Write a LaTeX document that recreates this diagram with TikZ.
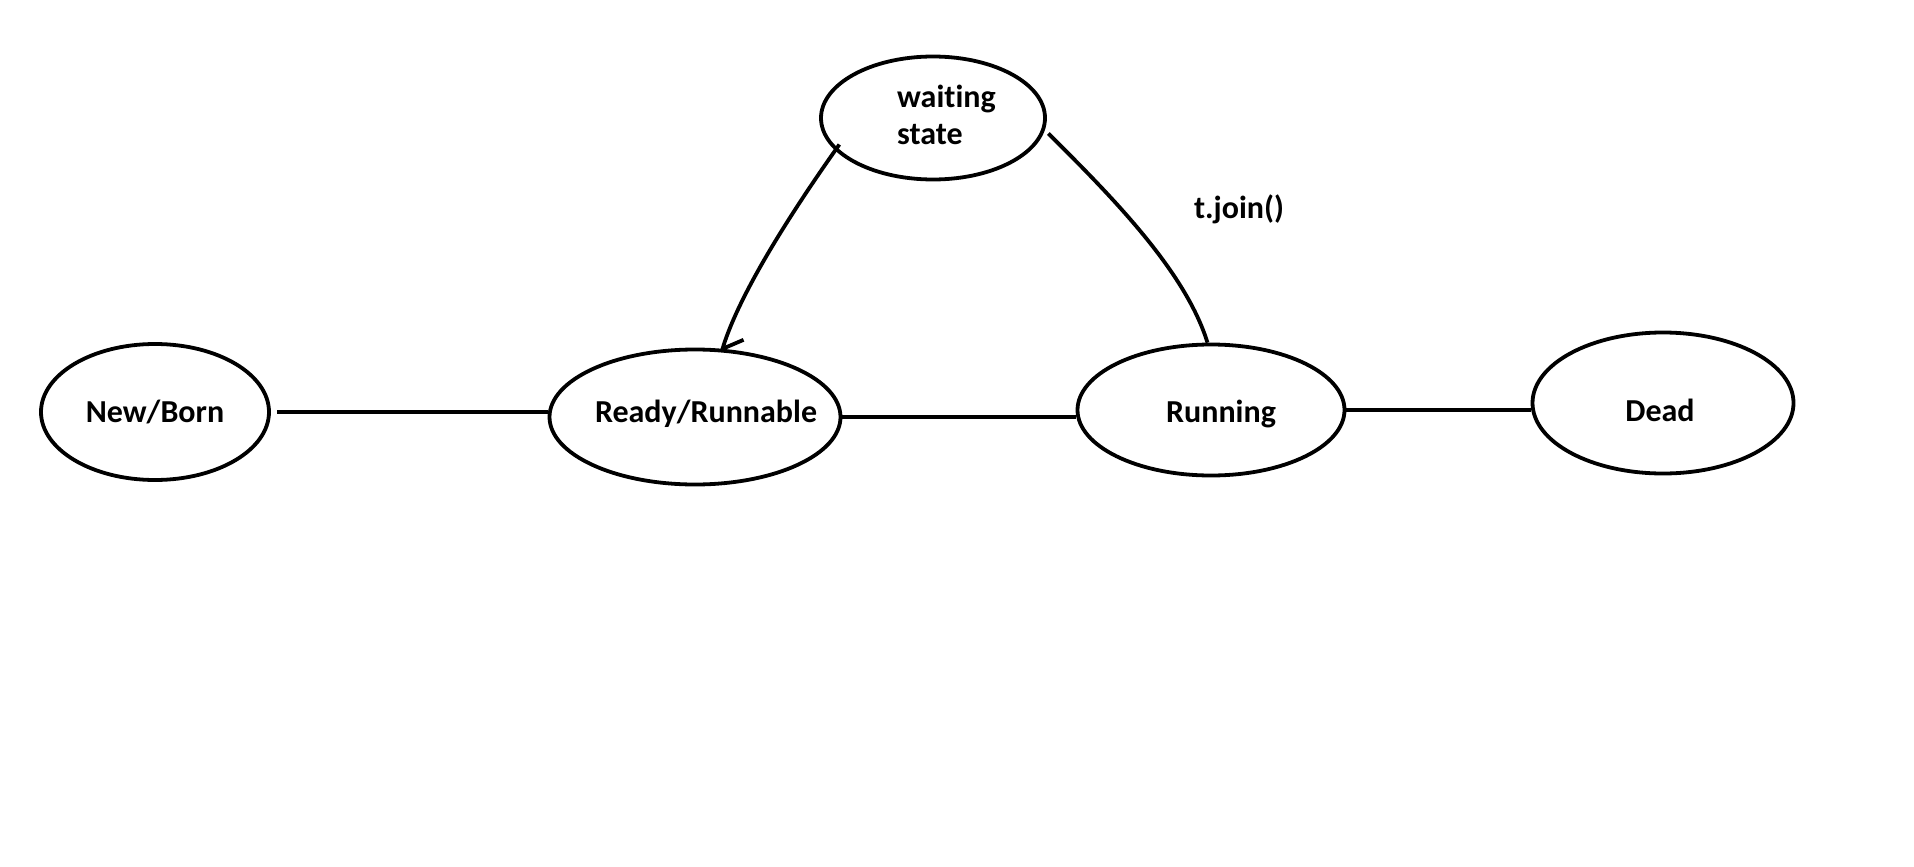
\documentclass[tikz,border=0pt]{standalone}
\usepackage{fontspec}
\setmainfont[Ligatures={NoCommon}]{Carlito}
\usetikzlibrary{shapes.geometric}
\tikzset{
  stateell/.style={ellipse, draw=black, line width=3.8pt, inner sep=0pt},
  lbl/.style={font=\fontsize{32}{38}\selectfont\bfseries, inner sep=0pt, text=black},
  conn/.style={line width=3.8pt, draw=black}
}
\begin{document}
\begin{tikzpicture}[x=1pt,y=-1pt]
\useasboundingbox[fill=white] (0,0) rectangle (1914,867);
% states
\node[stateell, minimum width=228pt, minimum height=136pt] (nb) at (155,412) {};
\node[stateell, minimum width=291pt, minimum height=135pt] (rr) at (695,417) {};
\node[stateell, minimum width=267pt, minimum height=131pt] (run) at (1211,410) {};
\node[stateell, minimum width=261pt, minimum height=141pt] (dead) at (1663,403) {};
\node[stateell, minimum width=224pt, minimum height=123pt] (ws) at (933,118) {};
% texts
\node[lbl, anchor=base] (tnb) at (155,422) {New/Born};
\node[lbl, anchor=base] (trr) at (706,422) {Ready/Runnable};
\node[lbl, anchor=base] (trun) at (1221,422) {Running};
\node[lbl, anchor=base] (tdead) at (1660,421) {Dead};
\node[lbl, anchor=base west] (tws1) at (897,107) {waiting};
\node[lbl, anchor=base west] (tws2) at (897,144) {state};
\node[lbl, anchor=base] (tjoin) at (1239,218) {t.join()};
% connectors
\draw[conn] ([xshift=6pt]nb.east) -- (nb.east -| rr.west);
\draw[conn] (rr.east) -- (rr.east -| run.west);
\draw[conn] (run.east) -- (run.east -| dead.west);
\draw[conn] ([xshift=9pt,yshift=1pt]ws.195) .. controls (800,200) and (740,290) .. (rr.68) -- ++(21,-9);
\draw[conn] ([xshift=5pt]ws.-8) .. controls (1110,195) and (1185,270) .. (run.93);
\end{tikzpicture}
\end{document}
